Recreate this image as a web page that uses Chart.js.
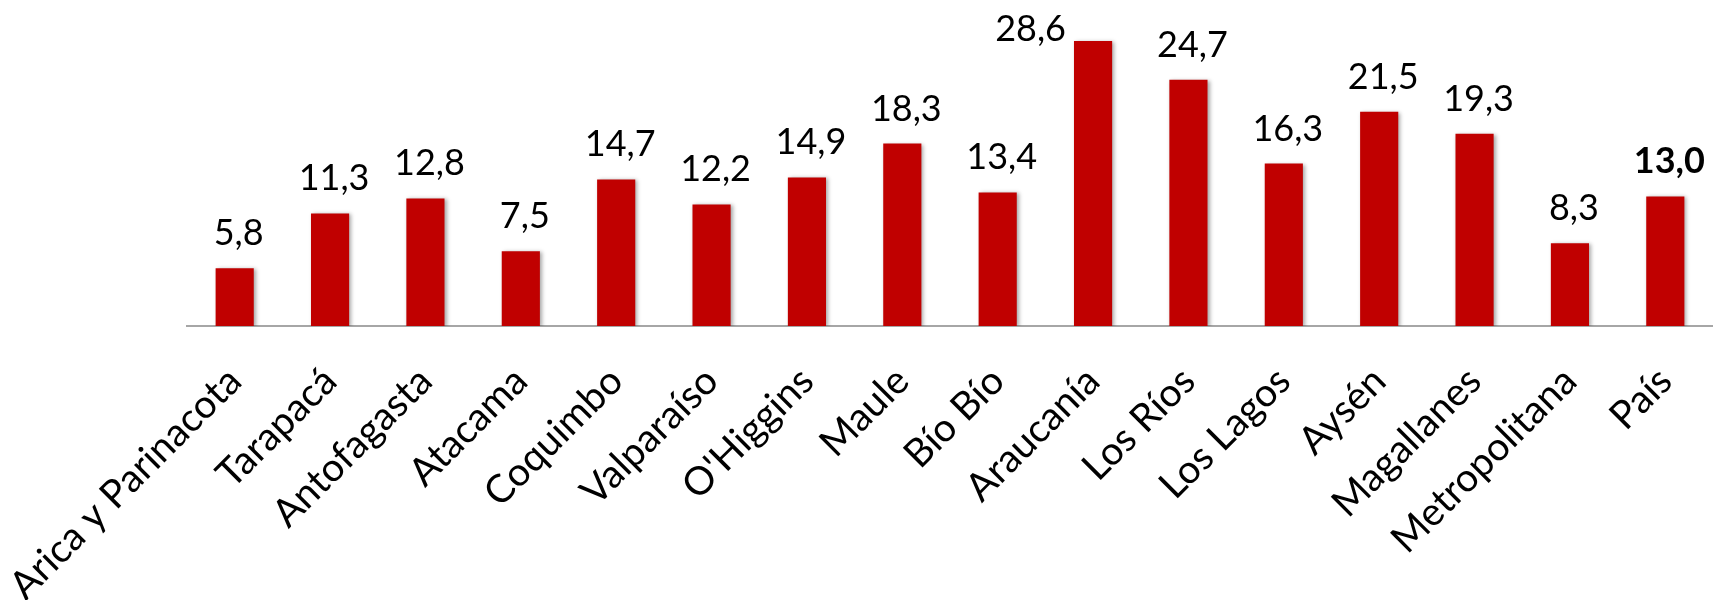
<!DOCTYPE html>
<html>
<head>
<meta charset="utf-8">
<script src="https://cdn.jsdelivr.net/npm/chart.js@4.4.1/dist/chart.umd.min.js"></script>
<style>
  html, body { margin: 0; padding: 0; background: #ffffff; }
  #wrap { width: 1713px; height: 600px; }
</style>
</head>
<body>
<div id="wrap"><canvas id="c" width="1713" height="600"></canvas></div>
<script>
const categories = ["Arica y Parinacota", "Tarapacá", "Antofagasta", "Atacama", "Coquimbo", "Valparaíso", "O'Higgins", "Maule", "Bío Bío", "Araucanía", "Los Ríos", "Los Lagos", "Aysén", "Magallanes", "Metropolitana", "País"];
const values = [5.8, 11.3, 12.8, 7.5, 14.7, 12.2, 14.9, 18.3, 13.4, 28.6, 24.7, 16.3, 21.5, 19.3, 8.3, 13.0];
const boldLabels = ["País"];

const FONT = "Lato, 'Open Sans', sans-serif";

const shadowPlugin = {
  id: 'barShadow',
  beforeDatasetsDraw(chart) {
    const ctx = chart.ctx;
    ctx.save();
    ctx.shadowColor = 'rgba(0,0,0,0.35)';
    ctx.shadowBlur = 4;
    ctx.shadowOffsetX = 2;
    ctx.shadowOffsetY = 1;
  },
  afterDatasetsDraw(chart) {
    chart.ctx.restore();
  }
};

const labelPlugin = {
  id: 'valueLabels',
  afterDraw(chart) {
    const ctx = chart.ctx;
    const meta = chart.getDatasetMeta(0);
    ctx.save();
    ctx.fillStyle = '#000000';
    ctx.textBaseline = 'alphabetic';
    meta.data.forEach((bar, i) => {
      const bold = boldLabels.includes(categories[i]);
      ctx.font = (bold ? 'bold ' : '') + '36px ' + FONT;
      const txt = values[i].toFixed(1).replace('.', ',');
      const capH = 26;
      let baseY = bar.y - 23;
      if (baseY - capH < 0) {
        ctx.textAlign = 'right';
        ctx.fillText(txt, bar.x - bar.width / 2 - 8, bar.y);
      } else {
        ctx.textAlign = 'center';
        ctx.fillText(txt, bar.x + 4, baseY);
      }
    });
    ctx.restore();
  }
};

new Chart(document.getElementById('c'), {
  type: 'bar',
  data: {
    labels: categories,
    datasets: [{
      data: values,
      backgroundColor: '#C00000',
      borderWidth: 0,
      barPercentage: 0.4,
      categoryPercentage: 1.0
    }]
  },
  options: {
    responsive: false,
    animation: false,
    events: [],
    layout: { padding: { left: 187, right: -2, top: 27, bottom: 0 } },
    plugins: { legend: { display: false }, tooltip: { enabled: false } },
    scales: {
      x: {
        grid: { display: false, drawTicks: false },
        border: { display: true, color: '#A6A6A6', width: 2 },
        ticks: {
          minRotation: 45,
          maxRotation: 45,
          autoSkip: false,
          padding: 32,
          color: '#000000',
          font: { family: FONT, size: 39 }
        },
        afterFit(scale) {
          scale.height = 274;
          scale.paddingLeft = 0;
          scale.paddingRight = 0;
        }
      },
      y: {
        display: false,
        min: 0,
        max: 30
      }
    }
  },
  plugins: [shadowPlugin, labelPlugin]
});
</script>
</body>
</html>
